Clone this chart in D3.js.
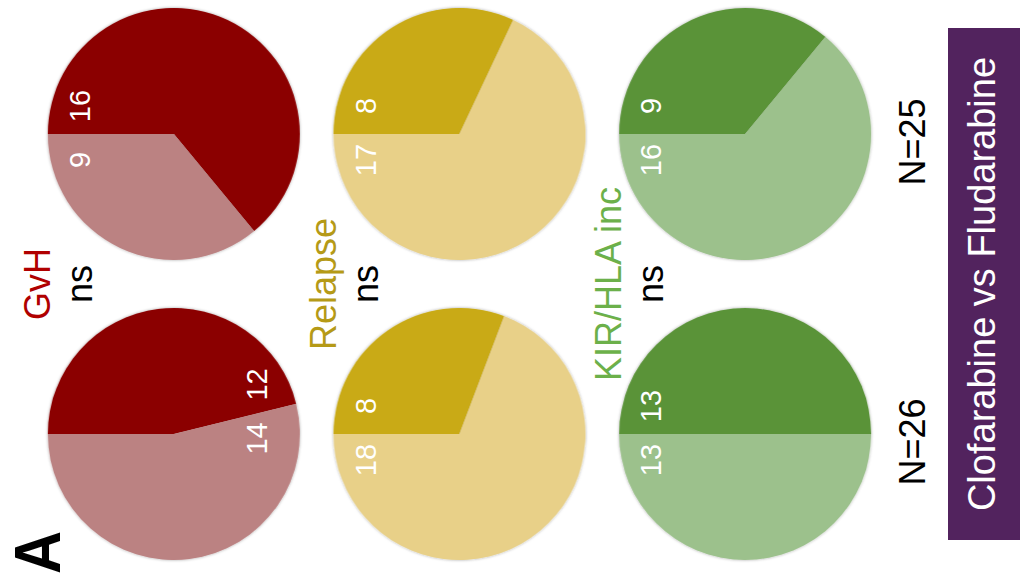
<!DOCTYPE html>
<html>
<head>
<meta charset="utf-8">
<script src="https://cdn.jsdelivr.net/npm/d3@7/dist/d3.min.js"></script>
<style>
  html, body { margin: 0; padding: 0; background: #ffffff; }
  svg { display: block; font-family: "Liberation Sans", Arial, sans-serif; }
</style>
</head>
<body>
<svg id="chart" width="1024" height="584"></svg>
<script>
// ---------------- data ----------------
const outcomes = ["GvH", "Relapse", "KIR/HLA inc"];
const significance = ["ns", "ns", "ns"];
const cohorts = ["Clofarabine", "Fludarabine"];
const cohortN = [26, 25];
// "yes" (dark) and "no" (light) counts, per outcome, per cohort [Clofarabine, Fludarabine]
const gvhYes = [12, 16];
const gvhNo = [14, 9];
const relapseYes = [8, 8];
const relapseNo = [18, 17];
const kirYes = [13, 9];
const kirNo = [13, 16];
const panelLabel = "A";
const headerText = "Clofarabine vs Fludarabine";

// ---------------- styles ----------------
const darkColors = ["#8b0000", "#c9aa13", "#5a9339"];
const lightColors = ["#bb8282", "#e8d088", "#9cc18c"];
const titleColors = ["#b00000", "#b59a17", "#6cb04a"];
const purple = "#52235e";

const yesByOutcome = [gvhYes, relapseYes, kirYes];
const noByOutcome = [gvhNo, relapseNo, kirNo];

const svg = d3.select("#chart");
const defs = svg.append("defs");
const f = defs.append("filter").attr("id", "shadow")
  .attr("x", "-10%").attr("y", "-10%").attr("width", "120%").attr("height", "120%");
f.append("feDropShadow").attr("dx", 0).attr("dy", 0).attr("stdDeviation", 1.6)
  .attr("flood-color", "#000").attr("flood-opacity", 0.35);

// whole figure is drawn in a frame rotated by -90 degrees
const g = svg.append("g").attr("transform", "translate(0,584) rotate(-90)");

const x = d3.scaleBand().domain(cohorts).range([0, 600]);
const y = d3.scaleBand().domain(outcomes).range([31, 888]);
const R = 126;

const pie = d3.pie().sort(null).value(d => d.value);
const arc = d3.arc().innerRadius(0).outerRadius(R);

// label placement: which slice boundary the count labels sit next to
const splitLabels = { "GvH|Clofarabine": true };

outcomes.forEach((o, oi) => {
  const cy = y(o) + y.bandwidth() / 2;
  cohorts.forEach((c, ci) => {
    const cx = x(c) + x.bandwidth() / 2;
    const data = [
      { key: "yes", value: yesByOutcome[oi][ci], color: darkColors[oi] },
      { key: "no", value: noByOutcome[oi][ci], color: lightColors[oi] }
    ];
    const arcs = pie(data);
    const pg = g.append("g").attr("transform", `translate(${cx},${cy})`);
    pg.append("g").attr("filter", "url(#shadow)")
      .selectAll("path").data(arcs).join("path")
      .attr("d", arc).attr("fill", d => d.data.color);

    const a = splitLabels[o + "|" + c] ? arcs[0].endAngle : 0;
    const Rl = 90;
    const px = Rl * Math.sin(a), py = -Rl * Math.cos(a) - 4;
    pg.append("text").attr("x", px + 28).attr("y", py).attr("dy", "0.35em")
      .attr("text-anchor", "middle").attr("font-size", 29).attr("fill", "#fff")
      .text(arcs[0].data.value);
    pg.append("text").attr("x", px - 26).attr("y", py).attr("dy", "0.35em")
      .attr("text-anchor", "middle").attr("font-size", 29).attr("fill", "#fff")
      .text(arcs[1].data.value);
  });

  // titles
  g.append("text").attr("x", 300).attr("y", cy - 124)
    .attr("text-anchor", "middle").attr("font-size", 36).attr("fill", titleColors[oi])
    .text(o);
  g.append("text").attr("x", 300).attr("y", cy - 82)
    .attr("text-anchor", "middle").attr("font-size", 36).attr("fill", "#000")
    .text(significance[oi]);
});

// N labels
cohorts.forEach((c, ci) => {
  g.append("text").attr("x", x(c) + x.bandwidth() / 2 - 8).attr("y", 925)
    .attr("text-anchor", "middle").attr("font-size", 36).attr("fill", "#000")
    .text("N=" + cohortN[ci]);
});

// header box
g.append("rect").attr("x", 44).attr("y", 948).attr("width", 512).attr("height", 72).attr("fill", purple);
g.append("text").attr("x", 300).attr("y", 995)
  .attr("text-anchor", "middle").attr("font-size", 38).attr("fill", "#fff")
  .text(headerText);

// panel label
g.append("text").attr("x", 10).attr("y", 60)
  .attr("font-size", 65).attr("font-weight", "bold").attr("fill", "#000")
  .attr("textLength", 43).attr("lengthAdjust", "spacingAndGlyphs")
  .text(panelLabel);
</script>
</body>
</html>
